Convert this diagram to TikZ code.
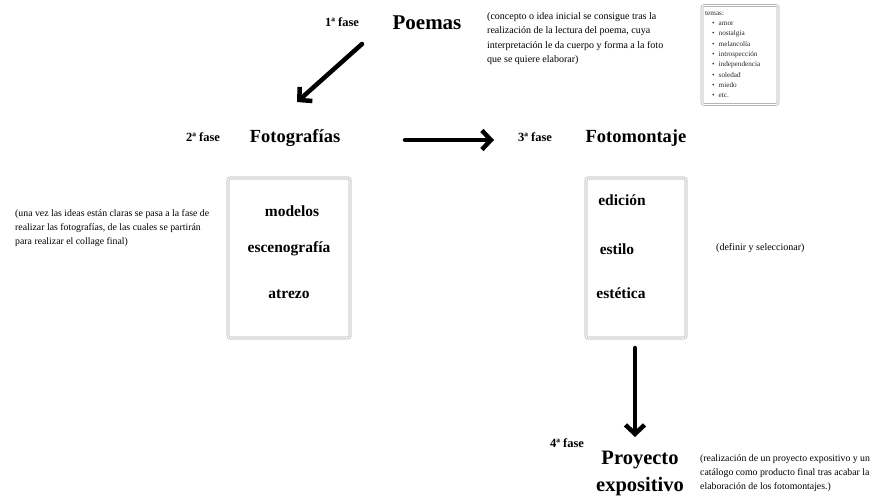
\documentclass[tikz,border=0pt]{standalone}
\usepackage{fontspec}
\setmainfont{Liberation Serif}
\usetikzlibrary{arrows.meta}
\tikzset{
  fase/.style={font=\bfseries\fontsize{12.5}{14}\selectfont, inner sep=0pt},
  title/.style={font=\bfseries\fontsize{18.5}{22}\selectfont, inner sep=0pt},
  bigtitle/.style={font=\bfseries\fontsize{21}{24}\selectfont, inner sep=0pt},
  item/.style={font=\bfseries\fontsize{15.5}{18}\selectfont, inner sep=0pt},
  note/.style={font=\fontsize{10}{14.6}\selectfont, inner sep=0pt, align=left},
  frame/.style={draw=gray!65, double=white, double distance=1.2pt, line width=0.7pt, rounded corners=2pt},
  bigarrow/.style={line width=4.5pt, -{Straight Barb[length=9pt,width=19pt]}, line cap=round, line join=round},
}
\begin{document}
\begin{tikzpicture}[x=1pt,y=-1pt]
\useasboundingbox (0,0) rectangle (883,502);
% phase 1
\node[fase] (f1) at (342,22) {1ª fase};
\node[bigtitle] (poemas) at (427,23) {Poemas};
\node[note, anchor=north west] (d1) at (487,12) {(concepto o idea inicial se consigue tras la\\realización de la lectura del poema, cuya\\interpretación le da cuerpo y forma a la foto\\que se quiere elaborar)};
% temas box
\node[frame, minimum width=76pt, minimum height=99pt] (temas) at (740,55) {};
\node[font=\fontsize{7.2}{10.3}\selectfont, text=black!85, inner sep=0pt, anchor=north west, align=left] (tl) at (705,11)
 {temas:\\
 \hspace{7pt}\textbullet\hspace{4pt}amor\\
 \hspace{7pt}\textbullet\hspace{4pt}nostalgia\\
 \hspace{7pt}\textbullet\hspace{4pt}melancolía\\
 \hspace{7pt}\textbullet\hspace{4pt}introspección\\
 \hspace{7pt}\textbullet\hspace{4pt}independencia\\
 \hspace{7pt}\textbullet\hspace{4pt}soledad\\
 \hspace{7pt}\textbullet\hspace{4pt}miedo\\
 \hspace{7pt}\textbullet\hspace{4pt}etc.};
% phase 2
\node[fase] (f2) at (203,137) {2ª fase};
\node[title] (foto) at (295,138) {Fotografías};
\node[frame, minimum width=122pt, minimum height=160pt] (box1) at (289,258) {};
\node[item] (m1) at (292,211) {modelos};
\node[item] (m2) at (289,249) {escenografía};
\node[item] (m3) at (289,294) {atrezo};
\node[note, font=\fontsize{9.8}{14}\selectfont, anchor=north west] (d2) at (15,209) {(una vez las ideas están claras se pasa a la fase de\\realizar las fotografías, de las cuales se partirán\\para realizar el collage final)};
% phase 3
\node[fase] (f3) at (535,137) {3ª fase};
\node[title] (montaje) at (636,138) {Fotomontaje};
\node[frame, minimum width=100pt, minimum height=160pt] (box2) at (636,258) {};
\node[item] (e1) at (622,200) {edición};
\node[item] (e2) at (617,249) {estilo};
\node[item] (e3) at (621,293) {estética};
\node[note, anchor=west] (d3) at (716,248) {(definir y seleccionar)};
% phase 4
\node[fase] (f4) at (567,443) {4ª fase};
\node[title, font=\bfseries\fontsize{20.5}{27}\selectfont, align=center] (proy) at (640,473) {Proyecto\\expositivo};
\node[note, font=\fontsize{9.8}{14}\selectfont, anchor=north west] (d4) at (700,454) {(realización de un proyecto expositivo y un\\catálogo como producto final tras acabar la\\elaboración de los fotomontajes.)};
% arrows
\coordinate (a1s) at (362,44);
\coordinate (a1e) at (297,102);
\coordinate (a2s) at (405,140);
\coordinate (a2e) at (494,140);
\coordinate (a3s) at (635,348);
\coordinate (a3e) at (635,437);
\draw[bigarrow] (a1s) -- (a1e);
\draw[bigarrow] (a2s) -- (a2e);
\draw[bigarrow] (a3s) -- (a3e);
\end{tikzpicture}
\end{document}
